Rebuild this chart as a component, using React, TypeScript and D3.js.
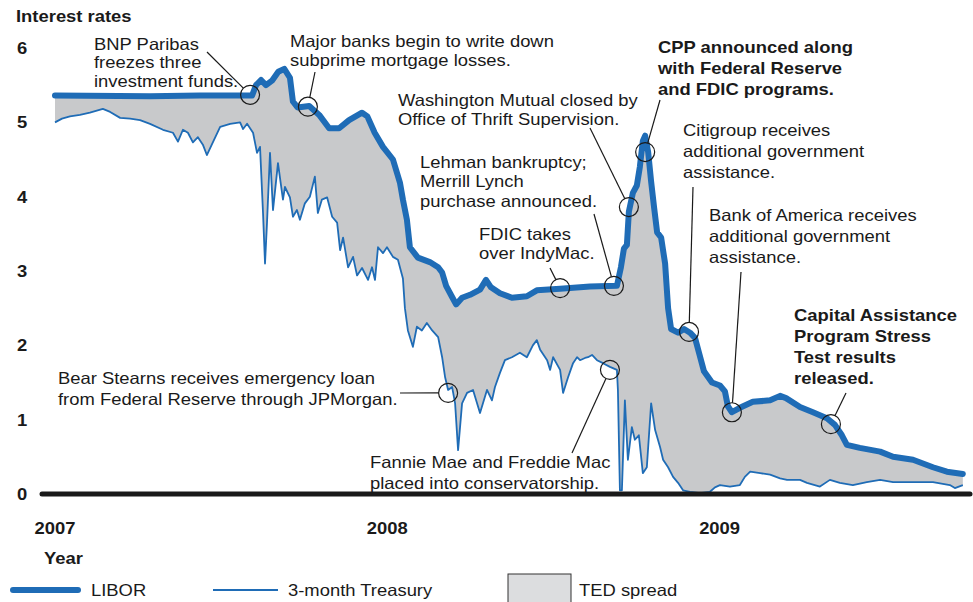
import React from "react";
import * as d3 from "d3";

// ---- Data (decimal years, percent) ----
const liborYears = [2007.0, 2007.286, 2007.436, 2007.593, 2007.605, 2007.62, 2007.635, 2007.653, 2007.672, 2007.69, 2007.707, 2007.716, 2007.73, 2007.765, 2007.795, 2007.825, 2007.855, 2007.885, 2007.924, 2007.94, 2007.962, 2007.987, 2008.017, 2008.038, 2008.047, 2008.059, 2008.068, 2008.092, 2008.128, 2008.153, 2008.165, 2008.177, 2008.195, 2008.207, 2008.225, 2008.249, 2008.279, 2008.297, 2008.312, 2008.339, 2008.375, 2008.42, 2008.45, 2008.52, 2008.61, 2008.691, 2008.703, 2008.712, 2008.721, 2008.727, 2008.739, 2008.751, 2008.76, 2008.769, 2008.776, 2008.785, 2008.794, 2008.803, 2008.812, 2008.824, 2008.836, 2008.845, 2008.854, 2008.875, 2008.893, 2008.911, 2008.926, 2008.938, 2008.953, 2008.977, 2009.001, 2009.016, 2009.025, 2009.037, 2009.061, 2009.1, 2009.152, 2009.182, 2009.2, 2009.242, 2009.281, 2009.323, 2009.347, 2009.368, 2009.383, 2009.422, 2009.483, 2009.522, 2009.582, 2009.642, 2009.684, 2009.732];
const liborRates = [5.36, 5.35, 5.36, 5.36, 5.5, 5.57, 5.5, 5.56, 5.68, 5.72, 5.6, 5.28, 5.2, 5.22, 5.1, 4.92, 4.92, 5.03, 5.13, 5.08, 4.86, 4.67, 4.5, 4.19, 3.96, 3.69, 3.32, 3.18, 3.12, 3.05, 2.98, 2.8, 2.65, 2.55, 2.64, 2.68, 2.75, 2.88, 2.78, 2.7, 2.64, 2.66, 2.74, 2.76, 2.79, 2.8, 3.05, 3.3, 3.35, 3.8, 4.05, 4.15, 4.4, 4.75, 4.82, 4.6, 4.2, 3.85, 3.52, 3.45, 3.1, 2.5, 2.22, 2.17, 2.22, 2.17, 2.1, 1.9, 1.65, 1.5, 1.46, 1.38, 1.18, 1.1, 1.16, 1.24, 1.26, 1.32, 1.29, 1.17, 1.1, 1.02, 0.93, 0.79, 0.66, 0.62, 0.57, 0.5, 0.46, 0.36, 0.3, 0.27];

const treasuryYears = [2007.0, 2007.021, 2007.045, 2007.075, 2007.105, 2007.144, 2007.166, 2007.196, 2007.226, 2007.256, 2007.286, 2007.325, 2007.355, 2007.37, 2007.385, 2007.4, 2007.415, 2007.43, 2007.445, 2007.457, 2007.475, 2007.497, 2007.527, 2007.557, 2007.566, 2007.578, 2007.596, 2007.608, 2007.617, 2007.626, 2007.632, 2007.638, 2007.647, 2007.656, 2007.671, 2007.686, 2007.692, 2007.707, 2007.716, 2007.728, 2007.737, 2007.752, 2007.767, 2007.782, 2007.791, 2007.803, 2007.819, 2007.834, 2007.849, 2007.858, 2007.867, 2007.882, 2007.897, 2007.909, 2007.924, 2007.942, 2007.954, 2007.963, 2007.972, 2007.987, 2007.999, 2008.017, 2008.032, 2008.047, 2008.053, 2008.062, 2008.077, 2008.089, 2008.104, 2008.119, 2008.135, 2008.153, 2008.165, 2008.174, 2008.183, 2008.195, 2008.204, 2008.213, 2008.225, 2008.24, 2008.258, 2008.279, 2008.3, 2008.315, 2008.324, 2008.339, 2008.354, 2008.375, 2008.399, 2008.42, 2008.438, 2008.45, 2008.46, 2008.481, 2008.49, 2008.499, 2008.52, 2008.529, 2008.544, 2008.559, 2008.571, 2008.58, 2008.595, 2008.604, 2008.616, 2008.631, 2008.649, 2008.67, 2008.691, 2008.694, 2008.7, 2008.706, 2008.715, 2008.724, 2008.736, 2008.745, 2008.757, 2008.769, 2008.781, 2008.794, 2008.806, 2008.821, 2008.83, 2008.845, 2008.86, 2008.875, 2008.89, 2008.911, 2008.941, 2008.971, 2008.986, 2009.001, 2009.031, 2009.061, 2009.076, 2009.092, 2009.122, 2009.152, 2009.182, 2009.203, 2009.242, 2009.263, 2009.302, 2009.332, 2009.362, 2009.401, 2009.443, 2009.483, 2009.522, 2009.564, 2009.603, 2009.642, 2009.693, 2009.708, 2009.732];
const treasuryRates = [5.0, 5.05, 5.08, 5.1, 5.13, 5.18, 5.14, 5.06, 5.05, 5.03, 4.98, 4.9, 4.86, 4.74, 4.9, 4.86, 4.73, 4.8, 4.7, 4.56, 4.73, 4.94, 4.98, 5.0, 4.91, 4.98, 4.86, 4.59, 4.67, 3.78, 3.1, 3.65, 4.59, 3.82, 4.45, 3.96, 4.13, 3.99, 3.73, 3.82, 3.69, 3.91, 4.0, 4.27, 3.78, 3.96, 3.99, 3.73, 3.65, 3.28, 3.45, 3.05, 3.19, 2.94, 3.04, 2.88, 3.05, 2.88, 3.32, 3.24, 3.32, 3.19, 3.15, 2.9, 2.5, 2.2, 1.98, 2.25, 2.2, 2.3, 2.2, 2.11, 1.84, 1.57, 1.4, 1.44, 1.22, 0.59, 1.22, 1.36, 1.4, 1.09, 1.4, 1.26, 1.44, 1.63, 1.8, 1.84, 1.9, 1.84, 2.0, 2.07, 1.94, 1.8, 1.67, 1.84, 1.67, 1.36, 1.57, 1.76, 1.84, 1.8, 1.83, 1.84, 1.87, 1.8, 1.76, 1.71, 1.67, 1.4, 0.05, 0.05, 1.26, 0.46, 0.9, 0.73, 0.79, 0.28, 0.36, 1.22, 0.86, 0.63, 0.46, 0.36, 0.23, 0.15, 0.05, 0.03, 0.01, 0.03, 0.09, 0.12, 0.1, 0.12, 0.23, 0.3, 0.28, 0.26, 0.21, 0.19, 0.19, 0.15, 0.1, 0.19, 0.15, 0.12, 0.16, 0.19, 0.16, 0.16, 0.16, 0.16, 0.12, 0.08, 0.12];

const yTicks = [0, 1, 2, 3, 4, 5, 6];
const yearTicks = [2007, 2008, 2009];

// annotations: event position in data, text lines, text anchor, leader start
const annotations = [
  { year: 2007.587, rate: 5.37, lines: ["BNP Paribas", "freezes three", "investment funds."], bold: false, tx: 94, ty: 50, lh: 18.5, lead: [207, 52] },
  { year: 2007.761, rate: 5.21, lines: ["Major banks begin to write down", "subprime mortgage losses."], bold: false, tx: 290, ty: 47, lh: 19.5, lead: [315, 72] },
  { year: 2008.727, rate: 3.86, lines: ["Washington Mutual closed by", "Office of Thrift Supervision."], bold: false, tx: 398, ty: 106, lh: 19.5, lead: [590, 128] },
  { year: 2008.682, rate: 2.8, lines: ["Lehman bankruptcy;", "Merrill Lynch", "purchase announced."], bold: false, tx: 420, ty: 168, lh: 19.5, lead: [594, 214] },
  { year: 2008.52, rate: 2.77, lines: ["FDIC takes", "over IndyMac."], bold: false, tx: 479, ty: 240, lh: 19, lead: [550, 268] },
  { year: 2008.776, rate: 4.6, lines: ["CPP announced along", "with Federal Reserve", "and FDIC programs."], bold: true, tx: 658, ty: 53, lh: 21, lead: [660, 100] },
  { year: 2008.908, rate: 2.18, lines: ["Citigroup receives", "additional government", "assistance."], bold: false, tx: 683, ty: 136, lh: 21, lead: [693, 187] },
  { year: 2009.037, rate: 1.1, lines: ["Bank of America receives", "additional government", "assistance."], bold: false, tx: 709, ty: 221, lh: 21, lead: [741, 272] },
  { year: 2009.335, rate: 0.94, lines: ["Capital Assistance", "Program Stress", "Test results", "released."], bold: true, tx: 794, ty: 321, lh: 21, lead: [846, 393] },
  { year: 2008.183, rate: 1.36, lines: ["Bear Stearns receives emergency loan", "from Federal Reserve through JPMorgan."], bold: false, tx: 58, ty: 384, lh: 21, lead: [400, 393] },
  { year: 2008.67, rate: 1.67, lines: ["Fannie Mae and Freddie Mac", "placed into conservatorship."], bold: false, tx: 370, ty: 468, lh: 21, lead: [572, 453] },
];

const BLUE = "#1f6cb6";
const GREY = "#c8c9cb";
const INK = "#1a1a1a";
const FONT = "'Liberation Sans', Arial, Helvetica, sans-serif";
const FS = 16.3;
const SX = 1.13;

function Label(props: { x: number; y: number; lines: string[]; lh?: number; bold?: boolean; anchor?: string; dy?: string }) {
  const { x, y, lines, lh = 0, bold = false, anchor = "start", dy } = props;
  return (
    <text transform={`translate(${x},${y}) scale(${SX},1)`} fontSize={FS} fontWeight={bold ? "bold" : "normal"} fill={INK} textAnchor={anchor}>
      {lines.map((l, j) => (
        <tspan key={j} x={0} y={j * lh} dy={dy}>{l}</tspan>
      ))}
    </text>
  );
}

export default function App() {
  const W = 973, H = 602;
  const x = d3.scaleLinear().domain([2007, 2010]).range([55, 55 + 332.3 * 3]);
  const y = d3.scaleLinear().domain([0, 6]).range([494, 48]);

  const libor = liborYears.map((t, i) => [t, liborRates[i]] as [number, number]);
  const treas = treasuryYears.map((t, i) => [t, treasuryRates[i]] as [number, number]);
  const line = d3.line<[number, number]>().x(d => x(d[0])).y(d => y(d[1]));
  const spreadPath = line([...libor, ...treas.slice().reverse()]) + "Z";

  const r = 9.5;

  return (
    <svg width={W} height={H} style={{ position: "absolute", left: 0, top: 0, fontFamily: FONT }}>
      <rect width={W} height={H} fill="#fff" />
      <Label x={16} y={22} lines={["Interest rates"]} bold />
      {yTicks.map(v => (
        <Label key={v} x={22} y={y(v)} dy="0.36em" lines={[String(v)]} bold anchor="middle" />
      ))}
      <path d={spreadPath} fill={GREY} stroke="none" />
      <path d={line(treas) || ""} fill="none" stroke={BLUE} strokeWidth={1.8} strokeLinejoin="round" />
      <path d={line(libor) || ""} fill="none" stroke={BLUE} strokeWidth={6} strokeLinejoin="round" strokeLinecap="round" />
      <line x1={42} x2={970} y1={y(0)} y2={y(0)} stroke={INK} strokeWidth={5} strokeLinecap="round" />
      {yearTicks.map(t => (
        <Label key={t} x={x(t)} y={528} dy="0.36em" lines={[String(t)]} bold anchor="middle" />
      ))}
      <Label x={44} y={564} lines={["Year"]} bold />

      {annotations.map((a, i) => {
        const cx = x(a.year), cy = y(a.rate);
        const dx = a.lead[0] - cx, dy = a.lead[1] - cy;
        const len = Math.sqrt(dx * dx + dy * dy);
        const ex = cx + (dx / len) * r, ey = cy + (dy / len) * r;
        return (
          <g key={i}>
            <circle cx={cx} cy={cy} r={r} fill="none" stroke={INK} strokeWidth={1.2} />
            <line x1={a.lead[0]} y1={a.lead[1]} x2={ex} y2={ey} stroke={INK} strokeWidth={1.2} />
            <Label x={a.tx} y={a.ty} lines={a.lines} lh={a.lh} bold={a.bold} />
          </g>
        );
      })}

      {/* legend */}
      <line x1={13} x2={78} y1={590} y2={590} stroke={BLUE} strokeWidth={6} strokeLinecap="round" />
      <Label x={91} y={596} lines={["LIBOR"]} />
      <line x1={213} x2={278} y1={590} y2={590} stroke={BLUE} strokeWidth={1.8} />
      <Label x={288} y={596} lines={["3-month Treasury"]} />
      <rect x={508} y={574} width={63} height={40} fill="#dcdddf" stroke="#333" strokeWidth={1} />
      <Label x={579} y={596} lines={["TED spread"]} />
    </svg>
  );
}
